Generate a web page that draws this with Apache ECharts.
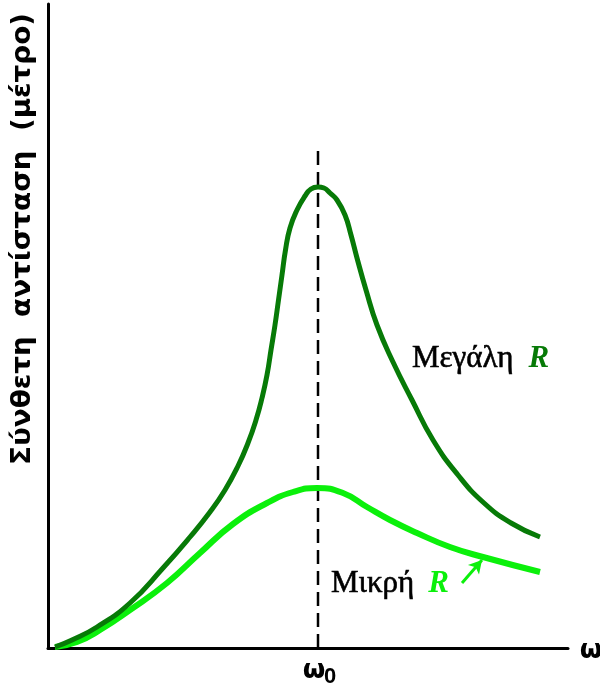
<!DOCTYPE html>
<html>
<head>
<meta charset="utf-8">
<script src="https://cdn.jsdelivr.net/npm/echarts@6/dist/echarts.min.js"></script>
<style>html,body{margin:0;padding:0;background:#fff}#c{width:600px;height:689px}</style>
</head>
<body>
<div id="c"></div>
<script>
// Data (arbitrary units: x = frequency ω, resonance ω0 at 270; y = |Z|)
const omega0 = 270;
const xMax = 520;
const yMax = 644;
const largeR_x = [7,24,49,82,115,142,162,177,190,200,208,214,219,223,227,230.5,234,237.5,242,249,257,263,270,276,282,289,297,303,309,318,329,345,364,385,410,436,463,492];
const largeR_y = [1,8,21,45,80,111,136,158,182,205,228,250,273,298,323,348,373,398,420,438,452,459,461,460,455,448,433,413,390,358,323,286,248,208,173,145,125,111];
const smallR_x = [7,29,52,82,119,152,185,219,245,269,295,319,342,369,402,435,492];
const smallR_y = [1,6,18,38,65,95,124,145,156,160,155,141,128,115,101,91,76];
const dashTop = 500;
const arrowFrom = [414,65];
const arrowTo = [434,88];
const labels = {
  yTitle: 'Σύνθετη  αντίσταση  (μέτρο)',
  xName: 'ω',
  omega0: 'ω',
  omega0Sub: '0',
  large: 'Μεγάλη',
  small: 'Μικρή',
  R: 'R'
};

const zip = (xs, ys) => xs.map((x, i) => [x, ys[i]]);

// measure y-title to stretch it to reference length
const cv = document.createElement('canvas').getContext('2d');
const yFont = 'bold 27px "DejaVu Sans"';
cv.font = yFont;
const yW = cv.measureText(labels.yTitle).width;
const yScale = 452 / yW;

const chart = echarts.init(document.getElementById('c'), null, {renderer: 'canvas'});
chart.setOption({
  animation: false,
  backgroundColor: '#fff',
  grid: {left: 48, right: 32, top: 4, bottom: 41},
  xAxis: {
    type: 'value', min: 0, max: xMax,
    axisLine: {show: true, lineStyle: {color: '#000', width: 3}},
    axisTick: {show: false}, axisLabel: {show: false}, splitLine: {show: false}
  },
  yAxis: {
    type: 'value', min: 0, max: yMax,
    axisLine: {show: true, lineStyle: {color: '#000', width: 3}},
    axisTick: {show: false}, axisLabel: {show: false}, splitLine: {show: false}
  },
  series: [
    {
      type: 'line', name: 'dash', data: [[omega0, 0], [omega0, dashTop]],
      symbol: 'none', silent: true,
      lineStyle: {color: '#000', width: 2.5, type: [14, 7]}, z: 1
    },
    {
      type: 'line', name: 'large', data: zip(largeR_x, largeR_y),
      symbol: 'none', smooth: 0.5,
      lineStyle: {color: '#077a07', width: 5}, z: 3
    },
    {
      type: 'line', name: 'small', data: zip(smallR_x, smallR_y),
      symbol: 'none', smooth: 0.5,
      lineStyle: {color: '#0bf00b', width: 6}, z: 2,
      markLine: {
        silent: true, symbol: ['none', 'arrow'], symbolSize: [11, 13],
        label: {show: false},
        lineStyle: {color: '#0bf00b', width: 3, type: 'solid'},
        data: [[{coord: arrowFrom}, {coord: arrowTo}]]
      }
    }
  ],
  graphic: [
    {
      type: 'text', x: 23, y: 239, rotation: Math.PI / 2, scaleX: yScale,
      style: {text: labels.yTitle, font: yFont, fill: '#000', align: 'center', verticalAlign: 'middle'}
    },
    {
      type: 'text', x: 591, y: 651,
      style: {text: labels.xName, font: 'bold 26px "DejaVu Sans"', fill: '#000', align: 'center', verticalAlign: 'middle'}
    },
    {
      type: 'text', x: 314, y: 671,
      style: {text: labels.omega0, font: 'bold 26px "DejaVu Sans"', fill: '#000', align: 'center', verticalAlign: 'middle'}
    },
    {
      type: 'text', x: 330, y: 677,
      style: {text: labels.omega0Sub, font: 'bold 22px "Liberation Sans"', fill: '#000', align: 'center', verticalAlign: 'middle'}
    },
    {
      type: 'text', x: 412, y: 359,
      style: {
        text: '{a|' + labels.large + '}{r|' + labels.R + '}',
        verticalAlign: 'middle',
        rich: {
          a: {font: '31px "Liberation Serif"', fill: '#000', stroke: '#000', lineWidth: 0.6},
          r: {font: 'italic bold 31px "Liberation Serif"', fill: '#077a07', padding: [0, 0, 0, 15]}
        }
      }
    },
    {
      type: 'text', x: 331, y: 584,
      style: {
        text: '{a|' + labels.small + '}{r|' + labels.R + '}',
        verticalAlign: 'middle',
        rich: {
          a: {font: '31px "Liberation Serif"', fill: '#000', stroke: '#000', lineWidth: 0.6},
          r: {font: 'italic bold 31px "Liberation Serif"', fill: '#0bf00b', padding: [0, 0, 0, 14]}
        }
      }
    }
  ]
});
</script>
</body>
</html>
